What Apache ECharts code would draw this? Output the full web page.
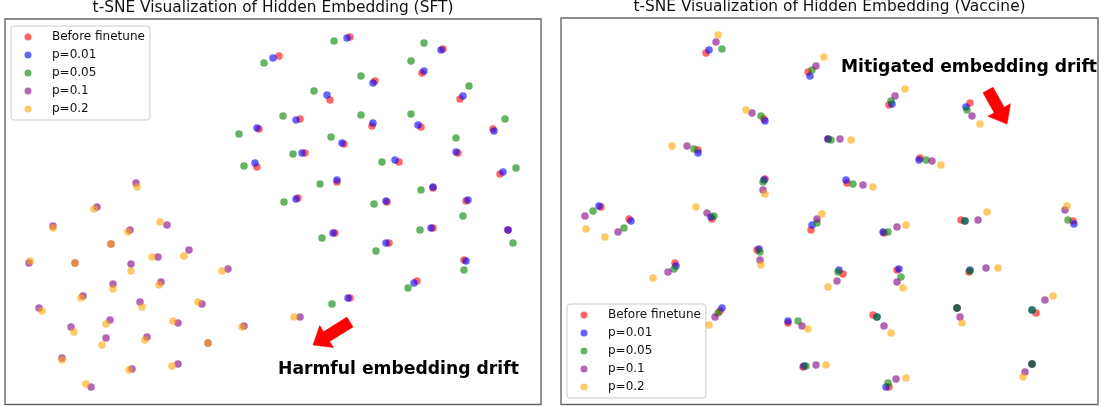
<!DOCTYPE html>
<html><head><meta charset="utf-8">
<script src="https://cdn.jsdelivr.net/npm/echarts@6/dist/echarts.min.js"></script>
<style>html,body{margin:0;padding:0;background:#fff}#c{width:1102px;height:406px}</style>
</head><body><div id="c"></div>
<script>
// ---- data (axes have no ticks) ----
const seriesNames = ['Before finetune', 'p=0.01', 'p=0.05', 'p=0.1', 'p=0.2'];
const seriesColors = ['#ff0000', '#0000ff', '#008000', '#800080', '#ffa500'];
const panelTitles = ['t-SNE Visualization of Hidden Embedding (SFT)', 't-SNE Visualization of Hidden Embedding (Vaccine)'];
const annotationTexts = ['Harmful embedding drift', 'Mitigated embedding drift'];

// SFT panel
const sftBefore = [[279,56],[259,129],[257,167],[350,37],[443,49],[422,73],[375,81],[460,99],[330,100],[300,119],[372,126],[421,127],[493,129],[344,144],[458,153],[305,153],[399,162],[500,174],[337,182],[433,188],[298,198],[387,202],[466,201],[335,233],[433,228],[508,230],[389,243],[464,260],[417,281],[350,298]];
const sftP001 = [[273,58],[257,128],[255,163],[347,38],[441,50],[424,71],[373,83],[463,96],[327,95],[296,120],[373,123],[418,125],[494,131],[342,143],[456,152],[302,153],[395,160],[503,172],[337,180],[433,187],[296,199],[386,201],[468,200],[333,233],[431,228],[508,230],[386,243],[466,261],[414,283],[348,298]];
const sftP005 = [[264,63],[239,134],[244,166],[334,41],[424,43],[411,61],[361,76],[469,86],[314,91],[283,116],[361,115],[411,114],[505,119],[331,137],[456,138],[293,154],[382,162],[516,168],[320,184],[421,190],[284,202],[374,204],[463,216],[322,238],[420,230],[513,243],[376,251],[464,270],[408,288],[332,304]];
const sftP01 = [[136,183],[97,207],[53,226],[167,225],[130,230],[111,244],[29,263],[75,263],[131,264],[158,257],[189,250],[228,269],[113,284],[161,282],[83,296],[39,308],[140,302],[202,304],[110,320],[178,323],[244,326],[71,327],[106,338],[147,337],[208,343],[62,358],[132,369],[178,364],[91,387],[300,317]];
const sftP02 = [[137,187],[94,209],[53,228],[160,222],[128,232],[111,244],[30,261],[75,263],[131,271],[152,257],[184,256],[222,271],[113,289],[159,285],[81,298],[42,311],[142,307],[198,302],[106,324],[173,321],[242,327],[74,332],[102,345],[145,340],[208,343],[62,360],[129,370],[172,366],[86,384],[294,317]];

// Vaccine panel
const vacBefore = [[706,53],[808,72],[764,119],[698,150],[765,179],[828,139],[889,105],[970,103],[920,158],[847,183],[601,207],[629,219],[712,219],[811,230],[757,250],[675,263],[720,311],[788,323],[803,367],[843,274],[884,233],[961,220],[1073,221],[897,270],[969,272],[873,315],[957,308],[1036,313],[889,387],[1032,364]];
const vacP001 = [[709,50],[810,76],[765,121],[698,153],[764,180],[828,139],[892,104],[966,107],[919,160],[846,180],[599,206],[631,221],[711,217],[812,225],[759,249],[676,266],[722,308],[788,321],[804,366],[839,270],[883,232],[965,221],[1074,224],[899,269],[970,270],[877,317],[957,308],[1032,310],[886,387],[1032,364]];
const vacP005 = [[722,49],[812,70],[761,116],[694,149],[763,182],[831,140],[891,101],[967,110],[926,160],[853,184],[593,211],[624,228],[714,216],[817,223],[760,252],[674,269],[718,313],[798,321],[806,366],[838,272],[888,232],[965,221],[1068,220],[901,277],[970,271],[877,317],[957,308],[1032,310],[888,383],[1032,364]];
const vacP01 = [[716,42],[816,66],[752,113],[687,146],[763,190],[840,139],[895,96],[972,116],[932,161],[863,185],[585,216],[618,232],[707,213],[817,219],[760,260],[668,272],[715,317],[802,326],[816,365],[837,281],[897,227],[978,220],[1065,210],[897,282],[986,268],[884,326],[960,317],[1045,300],[896,379],[1025,372]];
const vacP02 = [[718,35],[824,57],[746,110],[672,146],[765,194],[851,140],[905,89],[980,124],[941,165],[873,187],[586,229],[605,237],[696,207],[822,214],[761,265],[653,278],[709,325],[808,329],[826,365],[828,287],[906,225],[987,212],[1067,206],[903,288],[998,268],[891,333],[962,323],[1053,296],[906,378],[1023,377]];

// annotation anchors (data space of each panel)
const annotationAnchors = [[278,370],[841,68]];
const arrowTails = [[350,322],[988,90]];
const arrowTips = [[313,345],[1007,124]];

// ---- chart ----
const panels = [
  {data: [sftBefore, sftP001, sftP005, sftP01, sftP02]},
  {data: [vacBefore, vacP001, vacP005, vacP01, vacP02]}
];
const FONT = 'DejaVu Sans';
const grids = [
  {left: 5, top: 19, width: 536, height: 385.5},
  {left: 561, top: 18, width: 537, height: 386.5}
];
const xRanges = [[5, 541], [561, 1098]];
const yRanges = [[19, 404.5], [18, 404.5]];

const chart = echarts.init(document.getElementById('c'), null, {renderer: 'canvas'});
const series = [];
panels.forEach((p, gi) => {
  p.data.forEach((d, si) => {
    series.push({
      type: 'scatter', name: seriesNames[si], xAxisIndex: gi, yAxisIndex: gi,
      data: d, symbolSize: 7.5,
      itemStyle: {color: seriesColors[si], opacity: 0.6},
      emphasis: {disabled: true}, z: 2 + si
    });
  });
});

const legendBase = {
  orient: 'vertical', data: seriesNames, icon: 'circle',
  itemWidth: 34, itemHeight: 7, itemGap: 4,
  textStyle: {fontSize: 12, fontFamily: FONT, color: '#111', lineHeight: 14, padding: [0, 0, 0, 2]},
  backgroundColor: 'rgba(255,255,255,0.8)', borderColor: '#cccccc', borderWidth: 1, borderRadius: 3,
  itemStyle: {opacity: 0.6}, selectedMode: false
};

chart.setOption({
  animation: false,
  backgroundColor: '#fff',
  title: [
    {text: panelTitles[0], left: 273, top: 0, textAlign: 'center', padding: 0,
     textStyle: {fontSize: 15.4, fontWeight: 'normal', fontFamily: FONT, color: '#111'}},
    {text: panelTitles[1], left: 829.5, top: -1, textAlign: 'center', padding: 0,
     textStyle: {fontSize: 15.4, fontWeight: 'normal', fontFamily: FONT, color: '#111'}}
  ],
  grid: grids.map(g => Object.assign({show: true, borderColor: '#666', borderWidth: 1.4, backgroundColor: 'transparent'}, g)),
  xAxis: xRanges.map((r, i) => ({type: 'value', gridIndex: i, min: r[0], max: r[1], show: false})),
  yAxis: yRanges.map((r, i) => ({type: 'value', gridIndex: i, min: r[0], max: r[1], inverse: true, show: false})),
  legend: [
    Object.assign({left: 11, top: 26, padding: [4, 5, 4, 13.5]}, legendBase),
    Object.assign({left: 567, top: 304, padding: [4, 5, 4, 13.5]}, legendBase)
  ],
  series: series
});

function arrowPolygon(gi) {
  const t = chart.convertToPixel({gridIndex: gi}, arrowTails[gi]);
  const p = chart.convertToPixel({gridIndex: gi}, arrowTips[gi]);
  const dx = p[0] - t[0], dy = p[1] - t[1];
  const L = Math.hypot(dx, dy);
  const ux = dx / L, uy = dy / L, nx = -uy, ny = ux;
  const sw = 11.5, hw = 26, hl = 16;
  const bx = p[0] - ux * hl, by = p[1] - uy * hl;
  return [
    [t[0] + nx * sw / 2, t[1] + ny * sw / 2],
    [bx + nx * sw / 2, by + ny * sw / 2],
    [bx + nx * hw / 2, by + ny * hw / 2],
    [p[0], p[1]],
    [bx - nx * hw / 2, by - ny * hw / 2],
    [bx - nx * sw / 2, by - ny * sw / 2],
    [t[0] - nx * sw / 2, t[1] - ny * sw / 2]
  ];
}

const graphics = [];
[0, 1].forEach(gi => {
  const a = chart.convertToPixel({gridIndex: gi}, annotationAnchors[gi]);
  graphics.push({
    type: 'text', x: a[0], y: a[1], z: 50,
    style: {text: annotationTexts[gi], fontSize: 17.2, fontWeight: 'bold', fontFamily: FONT, fill: '#000', align: 'left', verticalAlign: 'middle'}
  });
  graphics.push({
    type: 'polygon', z: 50, shape: {points: arrowPolygon(gi)},
    style: {fill: '#ff0000', stroke: '#ff0000', lineWidth: 0.5}
  });
});
chart.setOption({graphic: graphics});
</script>
</body></html>
